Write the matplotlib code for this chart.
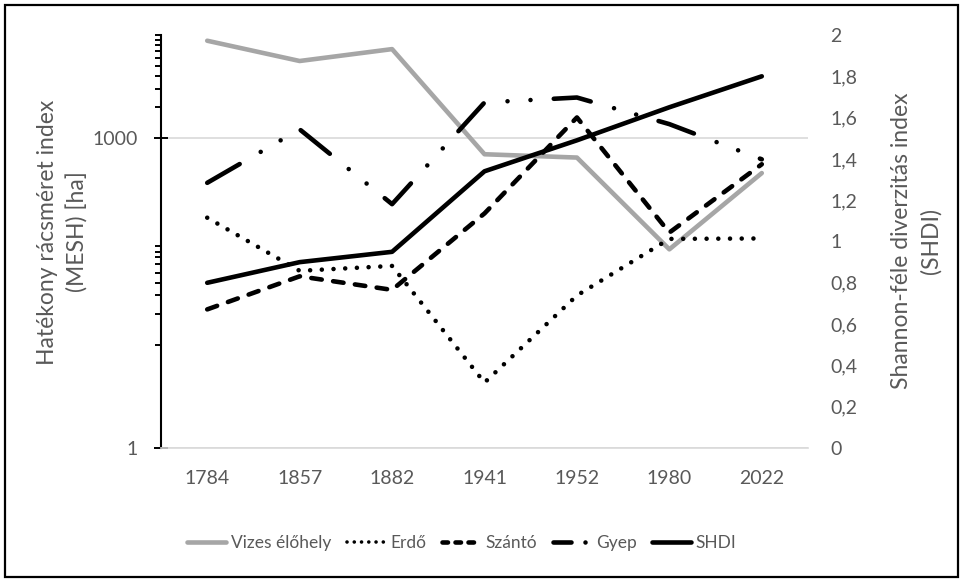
import matplotlib
matplotlib.use("Agg")
import matplotlib.pyplot as plt
from matplotlib.lines import Line2D
from matplotlib.patches import Rectangle
from matplotlib.ticker import FixedLocator, NullFormatter, FuncFormatter

# ---- data -------------------------------------------------------------
years = ["1784", "1857", "1882", "1941", "1952", "1980", "2022"]

# Effective mesh size (MESH, ha) per land-cover class, log axis
mesh_vizes = [8800, 5600, 7300, 700, 650, 84, 460]
mesh_erdo = [170, 52, 58, 4.3, 30, 106, 107]
mesh_szanto = [22, 46, 34, 187, 1590, 122, 560]
mesh_gyep = [370, 1220, 230, 2220, 2480, 1370, 625]

# Shannon diversity index, secondary axis
shdi = [0.80, 0.90, 0.95, 1.34, 1.49, 1.65, 1.80]

series_labels = ["Vizes élőhely", "Erdő", "Szántó", "Gyep", "SHDI"]
left_major = [1, 1000]
left_minor = [10, 20, 30, 40, 50, 60, 70, 80, 90,
              2000, 3000, 4000, 5000, 6000, 7000, 8000, 9000, 10000]
right_ticks = [0, 0.2, 0.4, 0.6, 0.8, 1.0, 1.2, 1.4, 1.6, 1.8, 2.0]

# ---- style ------------------------------------------------------------
plt.rcParams["font.family"] = ["Lato", "DejaVu Sans"]
TXT = "#595959"
GRID = "#D9D9D9"
DPI = 100
W, H = 964, 582
LW = 3.3                      # line width in points
LW_PX = LW * DPI / 72.0


def pattern(*px):
    """Dash pattern given in pixels, converted to line-width units."""
    return (0, tuple(max(p, 0.01) / LW_PX for p in px))


fig = plt.figure(figsize=(W / DPI, H / DPI), dpi=DPI)
ax = fig.add_axes([161 / W, 1 - 448 / H, (808 - 161) / W, (448 - 35) / H])
ax2 = ax.twinx()

x = list(range(len(years)))

common = dict(lw=LW, solid_capstyle="round", dash_capstyle="round",
              solid_joinstyle="round")
ax.plot(x, mesh_vizes, color="#A6A6A6", **common)
ax.plot(x, mesh_erdo, color="black", ls=pattern(0, 11.7), **common)
ax.plot(x, mesh_szanto, color="black", ls=pattern(10.5, 11.5), **common)
ax.plot(x, mesh_gyep, color="black",
        ls=pattern(37.5, 24.3, 0, 23.0, 0, 23.3), **common)
ax2.plot(x, shdi, color="black", **common)

# primary (log) axis
ax.set_yscale("log")
ax.set_ylim(1, 10000)
ax.set_xlim(-0.5, len(years) - 0.5)
ax.yaxis.set_major_locator(FixedLocator(left_major))
ax.yaxis.set_minor_locator(FixedLocator(left_minor))
ax.yaxis.set_minor_formatter(NullFormatter())
ax.yaxis.set_major_formatter(FuncFormatter(lambda v, p: f"{v:.0f}"))
ax.set_xticks(x)
ax.set_xticklabels(years)
ax.tick_params(axis="x", length=0, pad=16, labelsize=14, labelcolor=TXT)
ax.tick_params(axis="y", which="major", direction="inout", length=9.5,
               width=1.4, color="black", pad=12, labelsize=14, labelcolor=TXT)
ax.tick_params(axis="y", which="minor", direction="out", length=4.5,
               width=1.4, color="black")
ax.grid(True, axis="y", which="major", color=GRID, lw=1.2)
ax.set_axisbelow(True)
for side in ("top", "right"):
    ax.spines[side].set_visible(False)
ax.spines["left"].set_color("black")
ax.spines["left"].set_linewidth(1.5)
ax.spines["bottom"].set_color(GRID)
ax.spines["bottom"].set_linewidth(1.2)

# secondary (linear) axis
ax2.set_ylim(0, 2)
ax2.yaxis.set_major_locator(FixedLocator(right_ticks))
ax2.yaxis.set_major_formatter(
    FuncFormatter(lambda v, p: f"{v:.1f}".rstrip("0").rstrip(".").replace(".", ",")))
ax2.tick_params(axis="y", length=0, pad=16, labelsize=14, labelcolor=TXT)
for side in ("top", "right", "left", "bottom"):
    ax2.spines[side].set_visible(False)

# axis titles
fig.text(63 / W, 1 - 232 / H, "Hatékony rácsméret index\n(MESH) [ha]",
         rotation=90, ha="center", va="center", fontsize=16.5, color=TXT,
         linespacing=1.45, multialignment="center")
fig.text(916 / W, 1 - 241 / H, "Shannon-féle diverzitás index\n(SHDI)",
         rotation=90, ha="center", va="center", fontsize=16.5, color=TXT,
         linespacing=1.45, multialignment="center")

# legend with compact samples
leg_lw = 3.3
handles = [
    Line2D([], [], color="#A6A6A6", lw=leg_lw, solid_capstyle="round"),
    Line2D([], [], color="black", lw=2.6, dash_capstyle="round",
           ls=(0, (0.01, 2.0))),
    Line2D([], [], color="black", lw=leg_lw, dash_capstyle="round",
           ls=pattern(5.5, 7.5)),
    Line2D([], [], color="black", lw=leg_lw, dash_capstyle="round",
           ls=pattern(18, 14, 0, 30)),
    Line2D([], [], color="black", lw=leg_lw, solid_capstyle="round"),
]
leg = fig.legend(handles, series_labels, loc="center",
                 bbox_to_anchor=(462 / W, 1 - 543 / H), ncol=5, frameon=False,
                 fontsize=12.5, handlelength=2.2, handletextpad=0.3,
                 columnspacing=0.9, labelcolor=TXT)

# chart-area border
fig.patches.append(Rectangle((5 / W, 5 / H), 953 / W, 572 / H,
                             transform=fig.transFigure, fill=False,
                             edgecolor="black", lw=1.6))

fig.savefig("out.png", dpi=DPI)
